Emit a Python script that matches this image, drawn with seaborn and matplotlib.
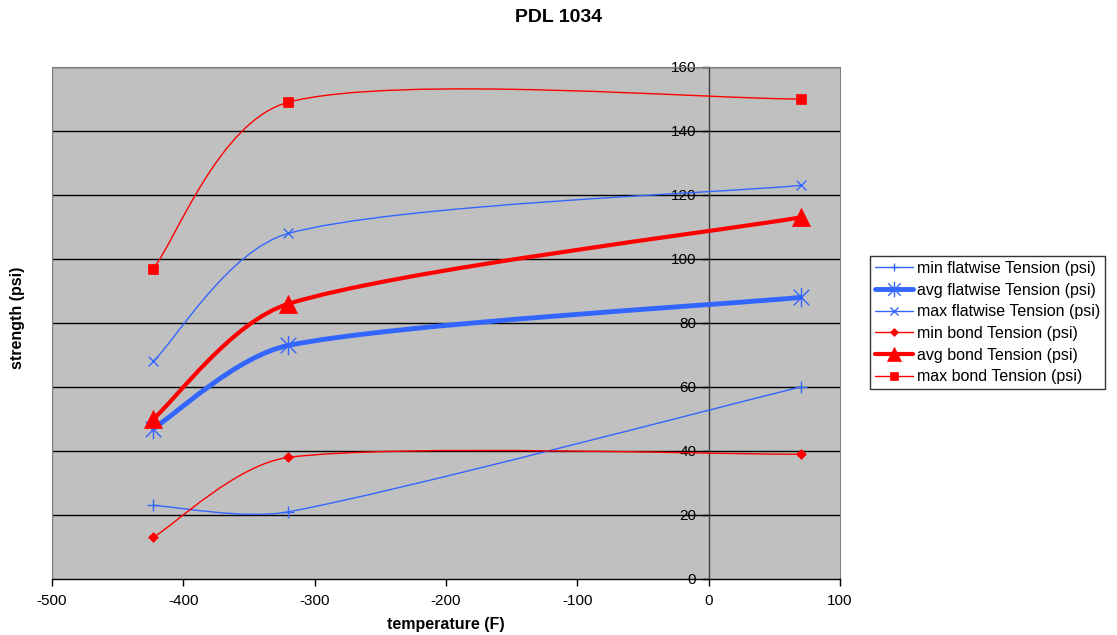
import numpy as np
import pandas as pd
import matplotlib
matplotlib.use("Agg")
import matplotlib.pyplot as plt
import seaborn as sns
from matplotlib.path import Path
from matplotlib.patches import PathPatch
from matplotlib.lines import Line2D

temperature = [-423, -320, 70]
min_flatwise = [23, 21, 60]
avg_flatwise = [47, 73, 88]
max_flatwise = [68, 108, 123]
min_bond = [13, 38, 39]
avg_bond = [50, 86, 113]
max_bond = [97, 149, 150]

series_names = [
    "min flatwise Tension (psi)",
    "avg flatwise Tension (psi)",
    "max flatwise Tension (psi)",
    "min bond Tension (psi)",
    "avg bond Tension (psi)",
    "max bond Tension (psi)",
]
series_values = [min_flatwise, avg_flatwise, max_flatwise, min_bond, avg_bond, max_bond]

sns.set_style("white")
plt.rcParams["font.family"] = ["Liberation Sans", "DejaVu Sans"]
plt.rcParams["axes.unicode_minus"] = False
plt.rcParams["text.color"] = "black"
plt.rcParams["axes.labelcolor"] = "black"

BLUE = "#3366FF"
RED = "#FF0000"

# Excel-like star marker: X plus vertical line
star_path = Path(
    [(-1, -1), (1, 1), (-1, 1), (1, -1), (0, -1.25), (0, 1.25)],
    [Path.MOVETO, Path.LINETO, Path.MOVETO, Path.LINETO, Path.MOVETO, Path.LINETO],
)

styles = [
    dict(color=BLUE, lw=1.0, marker="+", ms=8, mew=1.0, fill=False),
    dict(color=BLUE, lw=3.5, marker=star_path, ms=14, mew=1.0, fill=False),
    dict(color=BLUE, lw=1.0, marker="x", ms=7, mew=1.0, fill=False),
    dict(color=RED, lw=1.0, marker="D", ms=5, mew=0.5, fill=True),
    dict(color=RED, lw=3.0, marker="^", ms=13, mew=0.5, fill=True),
    dict(color=RED, lw=1.0, marker="s", ms=7, mew=0.5, fill=True),
]

fig = plt.figure(figsize=(11.17, 6.35), dpi=100)
ax = fig.add_axes([0.0466, 0.0882, 0.7055, 0.8063])
ax.set_facecolor("#C0C0C0")
ax.set_xlim(-500, 100)
ax.set_ylim(0, 160)


def _arm(vec, seg_len):
    """Catmull-Rom arm (1/6 of neighbour chord), limited to 1/3 of the segment."""
    arm = vec / 6.0
    L = np.linalg.norm(arm)
    lim = seg_len / 3.0
    if L > lim and L > 0:
        arm = arm * lim / L
    return arm


def smooth_path(xs, ys):
    """Excel-like smoothed curve built as cubic Bezier in display space."""
    data = np.column_stack([xs, ys]).astype(float)
    pts = ax.transData.transform(data)
    n = len(pts)
    verts = [pts[0]]
    codes = [Path.MOVETO]
    for i in range(n - 1):
        a, b = pts[i], pts[i + 1]
        prev = pts[i - 1] if i > 0 else a
        nxt = pts[i + 2] if i + 2 < n else b
        d_ab = np.linalg.norm(b - a)
        c1 = a + _arm(b - prev, d_ab)
        c2 = b - _arm(nxt - a, d_ab)
        verts += [c1, c2, b]
        codes += [Path.CURVE4] * 3
    verts = ax.transData.inverted().transform(np.array(verts))
    return Path(verts, codes)


for y in range(20, 161, 20):
    ax.axhline(y, color="black", lw=1.0, zorder=1)

handles = []
for name, vals, st in zip(series_names, series_values, styles):
    patch = PathPatch(smooth_path(temperature, vals), facecolor="none",
                      edgecolor=st["color"], lw=st["lw"], zorder=3,
                      capstyle="round", joinstyle="round")
    ax.add_patch(patch)
    df = pd.DataFrame({"t": temperature, "v": vals})
    sns.scatterplot(data=df, x="t", y="v", ax=ax, marker=st["marker"],
                    s=st["ms"] ** 2, color=st["color"], edgecolor=st["color"],
                    linewidth=st["mew"], zorder=4, legend=False)
    handles.append(Line2D([0], [0], color=st["color"], lw=st["lw"],
                          marker=st["marker"], ms=st["ms"] * 0.8,
                          mew=st["mew"], mfc=st["color"] if st["fill"] else "none",
                          mec=st["color"], label=name))

# spines / axes like Excel
ax.spines["left"].set_position(("data", 0))
ax.spines["left"].set_color("#404040")
ax.spines["left"].set_linewidth(1.0)
ax.spines["left"].set_zorder(2)
ax.spines["bottom"].set_color("black")
ax.spines["bottom"].set_linewidth(1.0)
ax.spines["top"].set_color("#808080")
ax.spines["right"].set_color("#808080")
ax.axvline(-500, color="#808080", lw=1.0, zorder=2)

ax.set_xticks(np.arange(-500, 101, 100))
ax.set_yticks(np.arange(0, 161, 20))
ax.tick_params(axis="both", direction="out", length=5, width=1, labelsize=11,
               colors="black", left=True, bottom=True)
ax.tick_params(axis="y", pad=4)
ax.tick_params(axis="x", pad=6)
ax.set_xlabel("temperature (F)", fontsize=11.5, fontweight="bold", labelpad=6,
              color="black")
ax.set_ylabel("")
fig.text(0.016, 0.5, "strength (psi)", rotation=90, fontsize=11.5, fontweight="bold",
         ha="center", va="center", color="black")
fig.text(0.5, 0.972, "PDL 1034", fontsize=14, fontweight="bold", ha="center",
         va="center", color="black")

leg = fig.legend(handles=handles, loc="center left", bbox_to_anchor=(0.779, 0.492),
                 fontsize=11.5, frameon=True, fancybox=False, handlelength=2.4,
                 borderpad=0.3, labelspacing=0.42, handletextpad=0.25,
                 borderaxespad=0)
leg.get_frame().set_edgecolor("black")
leg.get_frame().set_linewidth(1.0)
for t in leg.get_texts():
    t.set_color("black")

fig.savefig("out.png", dpi=100)
